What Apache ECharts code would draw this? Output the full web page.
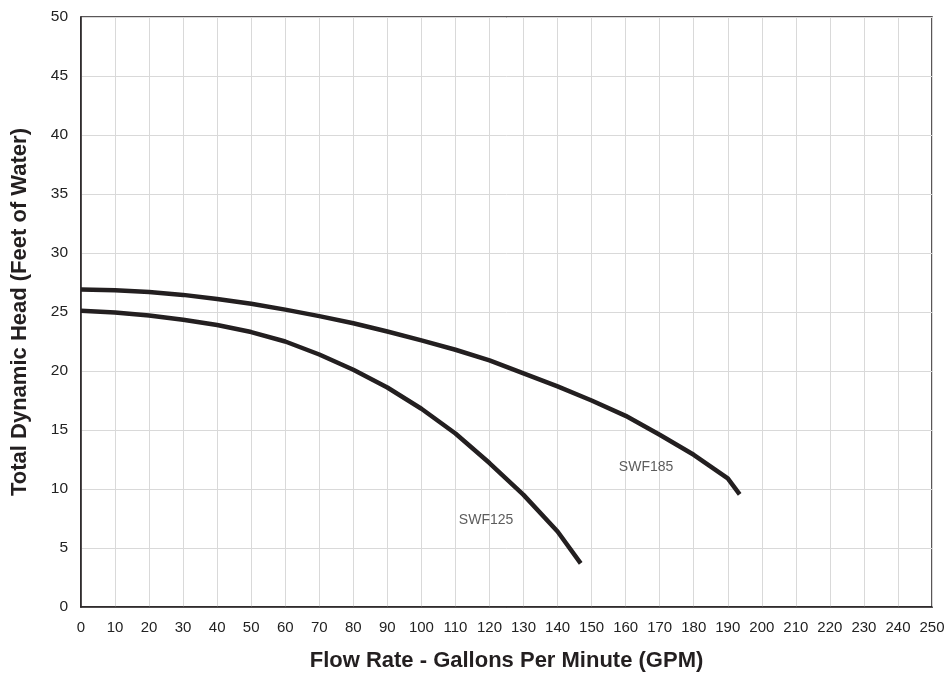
<!DOCTYPE html>
<html>
<head>
<meta charset="utf-8">
<script src="https://cdn.jsdelivr.net/npm/echarts@6/dist/echarts.min.js"></script>
<style>
html,body{margin:0;padding:0;background:#fff;}
#chart{width:948px;height:673px;}
</style>
</head>
<body>
<div id="chart"></div>
<script>
var xTicks = [0,10,20,30,40,50,60,70,80,90,100,110,120,130,140,150,160,170,180,190,200,210,220,230,240,250];
var yTicks = [0,5,10,15,20,25,30,35,40,45,50];
var swf185X = [0,10,20,30,40,50,60,70,80,90,100,110,120,130,140,150,160,170,180,190,193.5];
var swf185Y = [26.9,26.85,26.7,26.45,26.1,25.7,25.2,24.65,24.05,23.35,22.6,21.8,20.9,19.8,18.7,17.5,16.2,14.6,12.9,10.9,9.55];
var swf125X = [0,10,20,30,40,50,60,70,80,90,100,110,120,130,140,146.8];
var swf125Y = [25.1,24.95,24.7,24.35,23.9,23.3,22.5,21.4,20.1,18.6,16.8,14.7,12.2,9.5,6.4,3.7];
var curveLabels = [
  {name:'SWF185', x:166, y:11.86},
  {name:'SWF125', x:119, y:7.35}
];

function pairs(xs, ys){ return xs.map(function(x,i){ return [x, ys[i]]; }); }

var chart = echarts.init(document.getElementById('chart'));
var ink = '#231f20';
var font = 'Liberation Sans, Arial, Helvetica, sans-serif';
chart.setOption({
  animation:false,
  backgroundColor:'#fff',
  grid:{left:81, right:16, top:17, bottom:66, outerBoundsMode:'none', containLabel:false,
        show:true, borderColor:ink, borderWidth:1.5, backgroundColor:'transparent'},
  xAxis:{
    type:'value', min:0, max:250, interval:10,
    name:'Flow Rate - Gallons Per Minute (GPM)',
    nameLocation:'middle', nameGap:43,
    nameTextStyle:{fontFamily:font, fontWeight:'bold', fontSize:22, color:ink},
    axisLine:{show:true, lineStyle:{color:ink, width:1.5}},
    axisTick:{show:false},
    axisLabel:{fontFamily:font, fontSize:15, color:'#222', margin:13,
      formatter:function(v){return xTicks.indexOf(v)>=0 ? String(v) : '';}},
    splitLine:{show:true, lineStyle:{color:'#d9d9d9', width:1}}
  },
  yAxis:{
    type:'value', min:0, max:50, interval:5,
    name:'Total Dynamic Head (Feet of Water)',
    nameLocation:'middle', nameGap:50,
    nameTextStyle:{fontFamily:font, fontWeight:'bold', fontSize:22, color:ink},
    axisLine:{show:true, lineStyle:{color:ink, width:1.5}},
    axisTick:{show:false},
    axisLabel:{fontFamily:font, fontSize:15.5, color:'#222', margin:13,
      formatter:function(v){return yTicks.indexOf(v)>=0 ? String(v) : '';}},
    splitLine:{show:true, lineStyle:{color:'#d9d9d9', width:1}}
  },
  series:[
    {type:'line', name:'SWF185', data:pairs(swf185X, swf185Y), smooth:false, showSymbol:false, lineStyle:{color:ink, width:4.5, cap:'butt', join:'round'}, z:3},
    {type:'line', name:'SWF125', data:pairs(swf125X, swf125Y), smooth:false, showSymbol:false, lineStyle:{color:ink, width:4.5, cap:'butt', join:'round'}, z:3},
    {type:'scatter', symbolSize:0, z:4,
      data:curveLabels.map(function(d){return {name:d.name, value:[d.x,d.y]};}),
      label:{show:true, position:'inside', formatter:'{b}', fontFamily:font, fontSize:14, color:'#333'}}
  ]
});
</script>
</body>
</html>
